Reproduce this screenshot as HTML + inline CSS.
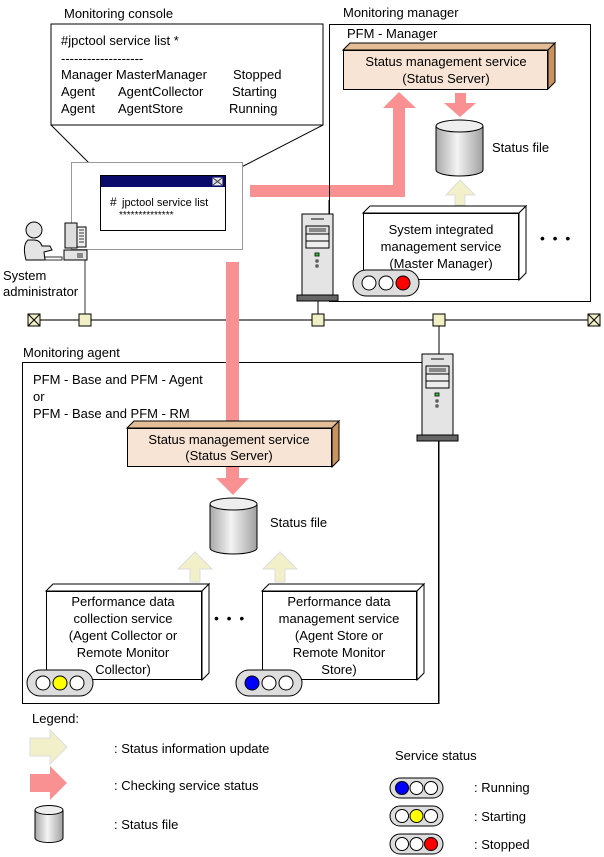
<!DOCTYPE html>
<html><head><meta charset="utf-8"><style>
html,body{margin:0;padding:0;background:#fff;}
svg{display:block;font-family:"Liberation Sans",sans-serif;font-size:13px;}
</style></head><body>
<svg width="604" height="857" viewBox="0 0 604 857" xmlns="http://www.w3.org/2000/svg">
<defs>
<linearGradient id="cyl" x1="0" x2="1" y1="0" y2="0">
<stop offset="0" stop-color="#a8a8a8"/><stop offset="0.45" stop-color="#f4f4f4"/><stop offset="1" stop-color="#a0a0a0"/>
</linearGradient>
<g id="tl"><rect x="0" y="0" width="66" height="26" rx="13" fill="#ddd" stroke="#000"/></g>
<g id="srv">
<rect x="0" y="0" width="31" height="81" fill="#e4e4e4" stroke="#000"/>
<line x1="9" y1="5" x2="22" y2="5" stroke="#777" stroke-width="2"/>
<rect x="4" y="12" width="23" height="8" fill="#ddd" stroke="#000"/>
<rect x="7" y="14" width="17" height="4" fill="#888"/>
<rect x="4" y="20" width="23" height="7" fill="#eee" stroke="#000"/>
<rect x="4" y="27" width="23" height="7" fill="#eee" stroke="#000"/>
<rect x="13" y="39" width="4" height="3" fill="#3c3" stroke="#000" stroke-width="0.8"/>
<rect x="14" y="46" width="2" height="2" fill="#fff" stroke="#000" stroke-width="0.8"/>
<rect x="14" y="51" width="2" height="2" fill="#fff" stroke="#000" stroke-width="0.8"/>
<rect x="-5" y="81" width="41" height="6" fill="#666" stroke="#000"/>
</g>
</defs>

<!-- network -->
<line x1="34" y1="320" x2="594" y2="320" stroke="#777" stroke-width="2"/>
<line x1="85" y1="260" x2="85" y2="320" stroke="#333"/>
<line x1="318" y1="301" x2="318" y2="320" stroke="#000"/>
<line x1="439" y1="320" x2="439" y2="704" stroke="#000"/>
<g fill="#f1efc4" stroke="#000">
<rect x="28" y="314" width="12" height="12"/>
<rect x="79" y="314" width="12" height="12"/>
<rect x="312" y="314" width="12" height="12"/>
<rect x="433" y="314" width="12" height="12"/>
<rect x="588" y="314" width="12" height="12"/>
</g>
<path d="M28 314 L40 326 M40 314 L28 326 M588 314 L600 326 M600 314 L588 326" stroke="#000"/>

<!-- console -->
<text x="64" y="18">Monitoring console</text>
<rect x="51" y="24" width="272" height="101" fill="#fff" stroke="#000"/>
<line x1="51" y1="125" x2="101" y2="175" stroke="#000"/>
<line x1="323" y1="125" x2="226" y2="175" stroke="#000"/>
<text x="61" y="45">#jpctool service list *</text>
<text x="61" y="63">-------------------</text>
<text x="61" y="79">Manager MasterManager</text><text x="233" y="79">Stopped</text>
<text x="61" y="96">Agent</text><text x="118" y="96">AgentCollector</text><text x="232" y="96">Starting</text>
<text x="61" y="113">Agent</text><text x="118" y="113">AgentStore</text><text x="229" y="113">Running</text>
<rect x="71.5" y="162.5" width="171" height="87" fill="#fff" stroke="#999"/>
<rect x="100.5" y="175.5" width="125" height="55" fill="#fff" stroke="#000"/>
<rect x="101" y="176" width="124" height="11" fill="#0a0a6a"/>
<rect x="213" y="178" width="9" height="7" fill="#ddd" stroke="#fff" stroke-width="0.8"/>
<path d="M213 178 L222 185 M222 178 L213 185" stroke="#333" stroke-width="0.8"/>
<text x="110" y="206" font-size="12">#</text><text x="122" y="206" font-size="11">jpctool service list</text>
<text x="119" y="218" font-size="10">**************</text>

<!-- admin -->
<circle cx="34" cy="230" r="8" fill="#e4e4e4" stroke="#000"/>
<path d="M28 240 Q22 245 26 260 L45 260 L44 252 L52 250 L50 246 L42 246 Q40 240 34 240 Z" fill="#e4e4e4" stroke="#000"/>
<rect x="45" y="257" width="17" height="3" fill="#fff" stroke="#000" stroke-width="0.8"/>
<rect x="65" y="223" width="12" height="25" fill="#ddd" stroke="#000"/>
<rect x="77" y="227" width="9" height="20" fill="#eee" stroke="#000"/>
<path d="M79 230h5M79 233h5M79 236h5M79 239h5M79 242h5" stroke="#000" stroke-width="0.8"/>
<rect x="64" y="250" width="23" height="10" fill="#e4e4e4" stroke="#000"/>
<path d="M78 253v5M80 253v5M82 253v5" stroke="#000" stroke-width="0.8"/>
<text x="3" y="280">System</text>
<text x="3" y="296">administrator</text>

<!-- pink route to manager -->
<polygon points="250,185 393,185 393,108 383,108 399,92 416,108 405,108 405,197 250,197" fill="#f99192"/>

<!-- manager -->
<text x="343" y="17">Monitoring manager</text>
<rect x="329.5" y="24.5" width="261" height="277" fill="none" stroke="#000"/>
<text x="347" y="38">PFM - Manager</text>
<polygon points="343,50 350,43 555,43 548,50" fill="#e2bd96" stroke="#000"/>
<polygon points="548,50 555,43 555,82 548,89" fill="#c9925e" stroke="#000"/>
<rect x="343.5" y="50.5" width="204" height="39" fill="#f7e4d4" stroke="#000"/>
<text x="446" y="66" text-anchor="middle">Status management service</text>
<text x="446" y="83" text-anchor="middle">(Status Server)</text>
<polygon points="455,93 466,93 466,103 476,103 460,117 444,103 455,103" fill="#f99192"/>
<path d="M436 126 L436 170 A23.5 6 0 0 0 483 170 L483 126" fill="url(#cyl)" stroke="#000"/>
<ellipse cx="459.5" cy="126" rx="23.5" ry="6" fill="#eee" stroke="#000"/>
<text x="492" y="152">Status file</text>
<polygon points="455,205 455,195 446,195 460,180 475,195 465,195 465,205" fill="#f2f0c8" stroke="#ddd"/>
<polygon points="363,213 370,206 526,206 519,213" fill="#fff" stroke="#000"/>
<polygon points="519,213 526,206 526,273 519,280" fill="#fff" stroke="#000"/>
<rect x="363.5" y="213.5" width="155" height="66" fill="#fff" stroke="#000"/>
<text x="441" y="234" text-anchor="middle">System integrated</text>
<text x="441" y="251" text-anchor="middle">management service</text>
<text x="441" y="268" text-anchor="middle">(Master Manager)</text>
<use href="#tl" x="353" y="270"/>
<circle cx="369" cy="283" r="7" fill="#fff" stroke="#000"/><circle cx="386" cy="283" r="7" fill="#fff" stroke="#000"/><circle cx="403" cy="283" r="7" fill="#f00" stroke="#000"/>
<text x="540" y="243" font-size="14">•&#160;&#160;•&#160;&#160;•</text>
<line x1="329" y1="200" x2="329" y2="214" stroke="#000"/>
<use href="#srv" x="302" y="214"/>

<!-- agent -->
<text x="23" y="357">Monitoring agent</text>
<rect x="22.5" y="362.5" width="416" height="341" fill="none" stroke="#000"/>
<use href="#srv" x="422" y="354"/>
<text x="33" y="384">PFM - Base and PFM - Agent</text>
<text x="33" y="401">or</text>
<text x="33" y="418">PFM - Base and PFM - RM</text>
<polygon points="226,262 239,262 239,478 249,478 233,495 216,478 226,478" fill="#f99192"/>
<polygon points="127,428 134,421 339,421 332,428" fill="#e2bd96" stroke="#000"/>
<polygon points="332,428 339,421 339,460 332,467" fill="#c9925e" stroke="#000"/>
<rect x="127.5" y="428.5" width="204" height="38" fill="#f7e4d4" stroke="#000"/>
<text x="229" y="441" text-anchor="middle" dy="3">Status management service</text>
<text x="229" y="458" text-anchor="middle" dy="2">(Status Server)</text>
<path d="M210 504 L210 548 A23.5 6 0 0 0 257 548 L257 504" fill="url(#cyl)" stroke="#000"/>
<ellipse cx="233.5" cy="504" rx="23.5" ry="6" fill="#eee" stroke="#000"/>
<text x="270" y="527">Status file</text>
<polygon points="190,582 190,569 178,569 195,552 212,569 200,569 200,582" fill="#f2f0c8" stroke="#ddd"/>
<polygon points="275,582 275,569 263,569 280,552 297,569 285,569 285,582" fill="#f2f0c8" stroke="#ddd"/>
<polygon points="46,591 53,584 209,584 202,591" fill="#fff" stroke="#000"/>
<polygon points="202,591 209,584 209,673 202,680" fill="#fff" stroke="#000"/>
<rect x="46.5" y="591.5" width="155" height="88" fill="#fff" stroke="#000"/>
<text x="123" y="606" text-anchor="middle">Performance data</text>
<text x="123" y="623" text-anchor="middle">collection service</text>
<text x="123" y="640" text-anchor="middle">(Agent Collector or</text>
<text x="123" y="657" text-anchor="middle">Remote Monitor</text>
<text x="123" y="674" text-anchor="middle">Collector)</text>
<polygon points="262,591 269,584 424,584 417,591" fill="#fff" stroke="#000"/>
<polygon points="417,591 424,584 424,673 417,680" fill="#fff" stroke="#000"/>
<rect x="262.5" y="591.5" width="154" height="88" fill="#fff" stroke="#000"/>
<text x="339" y="606" text-anchor="middle">Performance data</text>
<text x="339" y="623" text-anchor="middle">management service</text>
<text x="339" y="640" text-anchor="middle">(Agent Store or</text>
<text x="339" y="657" text-anchor="middle">Remote Monitor</text>
<text x="339" y="674" text-anchor="middle">Store)</text>
<text x="214" y="623" font-size="14">•&#160;&#160;•&#160;&#160;•</text>
<use href="#tl" x="27" y="670"/>
<circle cx="43" cy="683" r="7" fill="#fff" stroke="#000"/><circle cx="60" cy="683" r="7" fill="#ff0" stroke="#000"/><circle cx="77" cy="683" r="7" fill="#fff" stroke="#000"/>
<use href="#tl" x="236" y="670"/>
<circle cx="252" cy="683" r="7" fill="#00f" stroke="#000"/><circle cx="269" cy="683" r="7" fill="#fff" stroke="#000"/><circle cx="286" cy="683" r="7" fill="#fff" stroke="#000"/>

<!-- legend -->
<text x="32" y="723">Legend:</text>
<polygon points="30,738 50,738 50,730 67,747 50,764 50,756 30,756" fill="#f2f0c8" stroke="#ddd"/>
<text x="114" y="753">: Status information update</text>
<polygon points="30,774 50,774 50,766 67,783 50,800 50,792 30,792" fill="#f99192"/>
<text x="114" y="790">: Checking service status</text>
<path d="M35 810 L35 838 A14 4.5 0 0 0 63 838 L63 810" fill="url(#cyl)" stroke="#000"/>
<ellipse cx="49" cy="810" rx="14" ry="4.5" fill="#eee" stroke="#000"/>
<text x="114" y="829">: Status file</text>
<text x="395" y="760">Service status</text>
<rect x="390" y="778" width="53" height="20" rx="10" fill="#ddd" stroke="#000"/>
<circle cx="402" cy="788" r="6.5" fill="#00f" stroke="#000"/><circle cx="416.5" cy="788" r="6.5" fill="#fff" stroke="#000"/><circle cx="431" cy="788" r="6.5" fill="#fff" stroke="#000"/>
<rect x="390" y="806" width="53" height="20" rx="10" fill="#ddd" stroke="#000"/>
<circle cx="402" cy="816" r="6.5" fill="#fff" stroke="#000"/><circle cx="416.5" cy="816" r="6.5" fill="#ff0" stroke="#000"/><circle cx="431" cy="816" r="6.5" fill="#fff" stroke="#000"/>
<rect x="390" y="834" width="53" height="20" rx="10" fill="#ddd" stroke="#000"/>
<circle cx="402" cy="844" r="6.5" fill="#fff" stroke="#000"/><circle cx="416.5" cy="844" r="6.5" fill="#fff" stroke="#000"/><circle cx="431" cy="844" r="6.5" fill="#f00" stroke="#000"/>
<text x="474" y="792">: Running</text>
<text x="474" y="821">: Starting</text>
<text x="474" y="849">: Stopped</text>
</svg>
</body></html>
